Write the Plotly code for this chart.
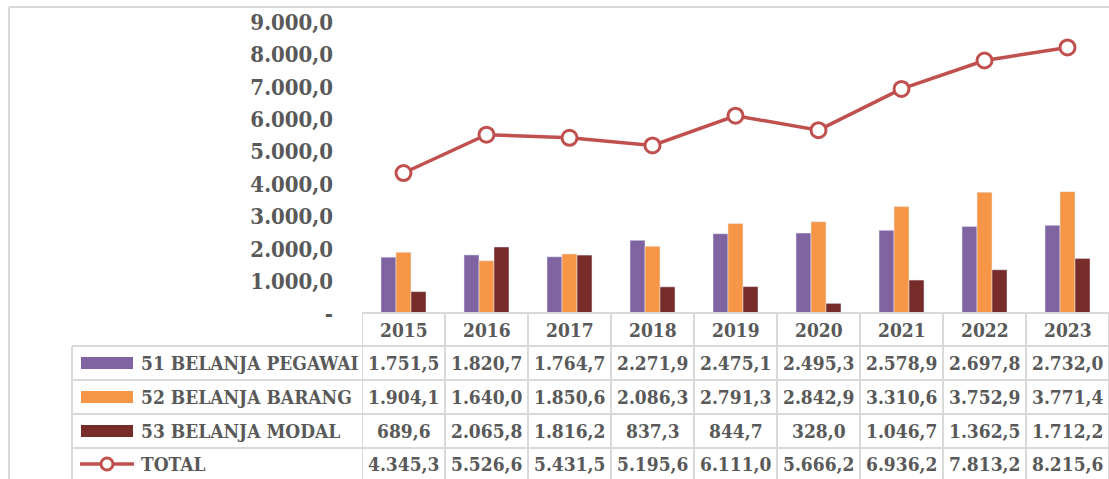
import plotly.graph_objects as go

years = ["2015", "2016", "2017", "2018", "2019", "2020", "2021", "2022", "2023"]
pegawai = [1751.5, 1820.7, 1764.7, 2271.9, 2475.1, 2495.3, 2578.9, 2697.8, 2732.0]
barang = [1904.1, 1640.0, 1850.6, 2086.3, 2791.3, 2842.9, 3310.6, 3752.9, 3771.4]
modal = [689.6, 2065.8, 1816.2, 837.3, 844.7, 328.0, 1046.7, 1362.5, 1712.2]
total = [4345.3, 5526.6, 5431.5, 5195.6, 6111.0, 5666.2, 6936.2, 7813.2, 8215.6]
series_names = ["51 BELANJA PEGAWAI", "52 BELANJA BARANG", "53 BELANJA MODAL", "TOTAL"]
ytick_vals = [0, 1000, 2000, 3000, 4000, 5000, 6000, 7000, 8000, 9000]
ytick_text = ["-", "1.000,0", "2.000,0", "3.000,0", "4.000,0", "5.000,0",
              "6.000,0", "7.000,0", "8.000,0", "9.000,0"]

C_PEG = "#8064A2"
C_BAR = "#F79646"
C_MOD = "#772C2A"
C_TOT = "#C0504D"
TXT = "#595959"
GRID = "#D9D9D9"
FONT = "DejaVu Serif Condensed"

W, H = 1109, 479
PLOT_L, PLOT_T, PLOT_B = 362, 22, 314
L, R, T, B = PLOT_L, 0, PLOT_T, H - PLOT_B
PW = W - L - R
PH = H - T - B


def px(x):
    return (x - L) / PW


def py(y):
    return (PLOT_B - y) / PH


def fmt(v):
    s = f"{v:,.1f}"
    return s.replace(",", "X").replace(".", ",").replace("X", ".")


fig = go.Figure()
fig.add_bar(x=years, y=pegawai, name=series_names[0], marker_color=C_PEG)
fig.add_bar(x=years, y=barang, name=series_names[1], marker_color=C_BAR)
fig.add_bar(x=years, y=modal, name=series_names[2], marker_color=C_MOD)
fig.add_scatter(x=years, y=total, name=series_names[3], mode="lines+markers",
                line=dict(color=C_TOT, width=3.5),
                marker=dict(symbol="circle", size=15, color="white",
                            line=dict(color=C_TOT, width=3)))

shapes = []
annotations = []
line_style = dict(color=GRID, width=2)

# outer border
shapes.append(dict(type="line", xref="paper", yref="paper", x0=px(9), x1=px(W + 5), y0=py(7), y1=py(7), line=line_style))
shapes.append(dict(type="line", xref="paper", yref="paper", x0=px(9), x1=px(9), y0=py(7), y1=py(H + 5), line=line_style))

# table grid
row_lines = [346, 380, 414, 448]
shapes.append(dict(type="line", xref="paper", yref="paper", x0=px(362), x1=px(W + 5), y0=py(313), y1=py(313), line=line_style))
for yl in row_lines:
    shapes.append(dict(type="line", xref="paper", yref="paper", x0=px(72), x1=px(W + 5), y0=py(yl), y1=py(yl), line=line_style))
shapes.append(dict(type="line", xref="paper", yref="paper", x0=px(72), x1=px(72), y0=py(346), y1=py(H + 5), line=line_style))
for i in range(len(years) + 1):
    shapes.append(dict(type="line", xref="x", yref="paper", x0=i - 0.5, x1=i - 0.5, y0=py(313), y1=py(H + 5), line=line_style))

row_centers = [363, 397, 431, 464]
header_center = 329.5
tfont = dict(family=FONT, size=19, color=TXT, weight="bold")

for i, yr in enumerate(years):
    annotations.append(dict(x=i, y=py(header_center), xref="x", yref="paper", text=yr,
                            showarrow=False, font=tfont, xanchor="center", yanchor="middle"))

for r, vals in enumerate([pegawai, barang, modal, total]):
    for i, yr in enumerate(years):
        annotations.append(dict(x=i, y=py(row_centers[r]), xref="x", yref="paper", text=fmt(vals[i]),
                                showarrow=False, font=tfont, xanchor="center", yanchor="middle"))
    annotations.append(dict(x=px(139), y=py(row_centers[r]), xref="paper", yref="paper", text=series_names[r],
                            showarrow=False, font=tfont, xanchor="left", yanchor="middle"))

# legend keys
for r, col in enumerate([C_PEG, C_BAR, C_MOD]):
    yc = row_centers[r]
    shapes.append(dict(type="rect", xref="paper", yref="paper", x0=px(81), x1=px(133),
                       y0=py(yc - 6), y1=py(yc + 6), fillcolor=col, line=dict(width=0)))
yc = row_centers[3]
shapes.append(dict(type="line", xref="paper", yref="paper", x0=px(80), x1=px(134), y0=py(yc), y1=py(yc),
                   line=dict(color=C_TOT, width=3.5)))
shapes.append(dict(type="circle", xref="paper", yref="paper", x0=px(101), x1=px(113),
                   y0=py(yc + 6), y1=py(yc - 6), fillcolor="white", line=dict(color=C_TOT, width=3)))

fig.update_layout(
    width=W, height=H,
    margin=dict(l=L, r=R, t=T, b=B, pad=0),
    paper_bgcolor="white", plot_bgcolor="white",
    showlegend=False,
    barmode="group", bargap=0.458, bargroupgap=0,
    shapes=shapes, annotations=annotations,
    font=dict(family=FONT, color=TXT),
)
fig.update_xaxes(type="category", showticklabels=False, showgrid=False, zeroline=False, showline=False,
                 range=[-0.5, len(years) - 0.5])
fig.update_yaxes(range=[0, 9000], tickvals=ytick_vals, ticktext=ytick_text,
                 showgrid=False, zeroline=False, showline=False,
                 ticklabelstandoff=28,
                 tickfont=dict(family=FONT, size=22, color=TXT, weight="bold"))

fig.write_html("out.html", config={"displayModeBar": False},
               post_script="document.body.style.margin='0';document.documentElement.style.overflow='hidden';")
